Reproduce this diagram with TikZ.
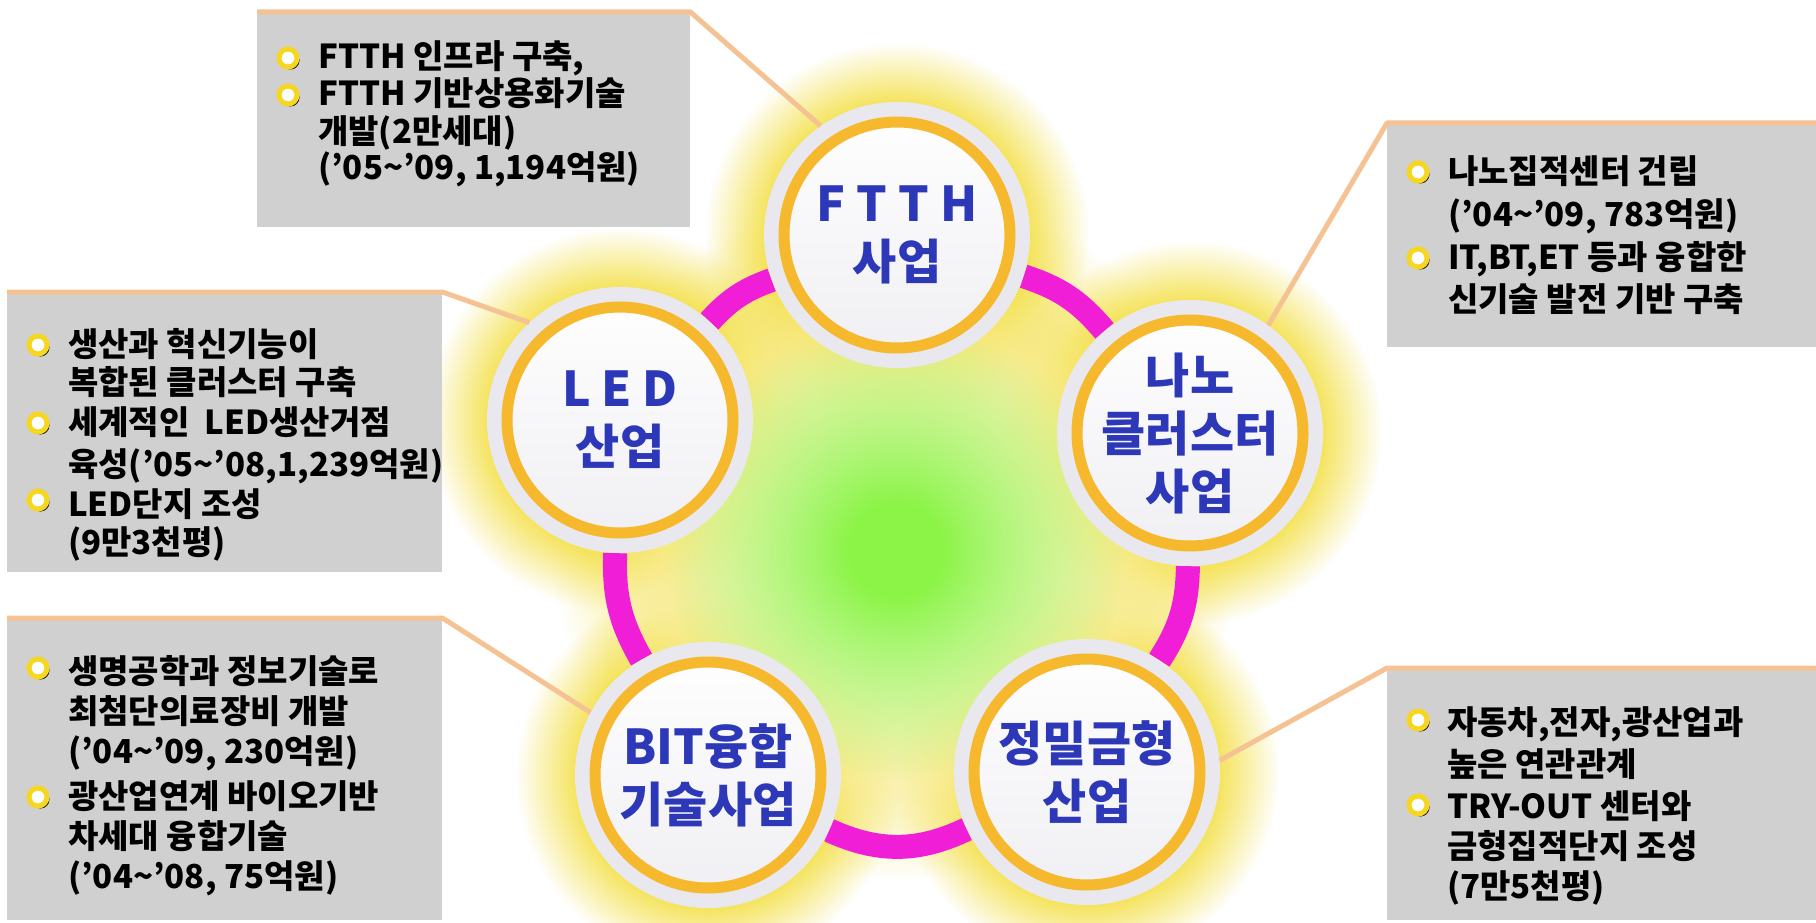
\documentclass[tikz,border=0pt]{standalone}
\usepackage{fontspec}
\setmainfont{Noto Sans CJK KR}
\usetikzlibrary{positioning}
\usetikzlibrary{shadows}
\usetikzlibrary{fadings}
\usetikzlibrary{backgrounds}

\definecolor{boxgray}{RGB}{208,208,208}
\definecolor{leadline}{RGB}{245,194,148}
\definecolor{glowy}{RGB}{244,224,70}
\definecolor{gcore}{RGB}{140,244,70}
\definecolor{bandpink}{RGB}{240,30,214}
\definecolor{ringorange}{RGB}{246,184,44}
\definecolor{hubblue}{RGB}{44,56,184}
\definecolor{discgray}{RGB}{232,232,238}
\definecolor{buly}{RGB}{246,214,30}

% soft edges for the glow
\pgfdeclareradialshading{halofade}{\pgfpointorigin}{color(0bp)=(white); color(16bp)=(white); color(25bp)=(black); color(50bp)=(black)}
\pgfdeclarefading{halo}{\pgfuseshading{halofade}}
\pgfdeclareradialshading{softfade}{\pgfpointorigin}{color(0bp)=(white); color(5bp)=(white); color(25bp)=(black); color(50bp)=(black)}
\pgfdeclarefading{soft}{\pgfuseshading{softfade}}

\newcommand\itemfont{\fontsize{33}{40}\selectfont\bfseries}
\newcommand\hubfont{\fontsize{48}{58}\selectfont\bfseries}

\begin{document}
\begin{tikzpicture}[x=1pt, y=-1pt,
  hub/.style={circle, minimum size=266pt, inner sep=0pt, fill=discgray, text=hubblue, font=\hubfont, align=center,
    path picture={\shade[top color=white, bottom color=discgray!70] (path picture bounding box.center) circle (108pt);
      \draw[ringorange, line width=11pt] (path picture bounding box.center) circle (113pt);}},
  infobox/.style={rectangle, fill=boxgray, inner sep=0pt, anchor=north west},
  lead/.style={leadline, line width=5pt, line join=round},
  band/.style={bandpink, line width=24pt},
  bul/.style={circle, draw=buly, line width=5pt, fill=white, minimum size=18pt, inner sep=0pt,
    drop shadow={shadow xshift=2.5pt, shadow yshift=-2.5pt, fill=black, opacity=0.85}},
  item/.style={anchor=base west, inner sep=0pt, font=\itemfont}]
\useasboundingbox (0,0) rectangle (1816,923);

% the five hubs
\node[hub] (ftth) at (897,235) {F T T H\\사업};
\node[hub] (nano) at (1190,433) {나노\\클러스터\\사업};
\node[hub] (mold) at (1087,772) {정밀금형\\산업};
\node[hub] (bit) at (708,775) {BIT융합\\기술사업};
\node[hub] (led) at (620,420) {L E D\\산업};

% glow and ring behind the hubs
\begin{scope}[on background layer]
\fill[white] (0,0) rectangle (1816,923);
\fill[glowy!75!white, path fading=halo] (896,535) circle (345);
\fill[glowy, path fading=halo] (ftth) circle (192);
\fill[glowy, path fading=halo] (nano) circle (192);
\fill[glowy, path fading=halo] (mold) circle (192);
\fill[glowy, path fading=halo] (bit) circle (192);
\fill[glowy, path fading=halo] (led) circle (192);
\fill[white, path fading=soft] (896,560) circle (300);
\fill[gcore, path fading=soft] (896,550) circle (230);
\draw[band] (ftth) to[bend left=16] (nano);
\draw[band] (nano) to[bend left=16] (mold);
\draw[band] (mold) to[bend left=25] (bit);
\draw[band] (bit) to[bend left=16] (led);
\draw[band] (led) to[bend left=14] (ftth);
\end{scope}

% info boxes
\node[infobox, minimum width=433pt, minimum height=215pt] (ftthbox) at (257,12) {};
\node[infobox, minimum width=429pt, minimum height=224pt] (nanobox) at (1387,123) {};
\node[infobox, minimum width=435pt, minimum height=280pt] (ledbox) at (7,292) {};
\node[infobox, minimum width=435pt, minimum height=302pt] (bitbox) at (7,618) {};
\node[infobox, minimum width=429pt, minimum height=252pt] (moldbox) at (1387,668) {};

\draw[lead] (ftthbox.north west) -- (ftthbox.north east) -- (ftth.125);
\draw[lead] (nanobox.north east) -- (nanobox.north west) -- (nano.54);
\draw[lead] (ledbox.north west) -- (ledbox.north east) -- (led.133);
\draw[lead] (bitbox.north west) -- (bitbox.north east) -- (bit.152);
\draw[lead] (moldbox.north east) -- (moldbox.north west) -- (mold.5);

% FTTH
\node[bul] (fb1) at (288,58) {};
\node[bul] (fb2) at (288,95) {};
\node[item] (ft1) at (318,69) {FTTH 인프라 구축,};
\node[item] (ft2) at (318,106) {FTTH 기반상용화기술};
\node[item] (ft3) at (318,144) {개발(2만세대)};
\node[item] (ft4) at (318,179) {('05\textasciitilde'09, 1,194억원)};

% nano
\node[bul] (nb1) at (1418,172) {};
\node[bul] (nb2) at (1418,258) {};
\node[item] (nt1) at (1448,183) {나노집적센터 건립};
\node[item] (nt2) at (1448,226) {('04\textasciitilde'09, 783억원)};
\node[item] (nt3) at (1448,269) {IT,BT,ET 등과 융합한};
\node[item] (nt4) at (1448,311) {신기술 발전 기반 구축};

% LED
\node[bul] (lb1) at (38,345) {};
\node[bul] (lb2) at (38,423) {};
\node[bul] (lb3) at (38,500) {};
\node[item] (lt1) at (68,356) {생산과 혁신기능이};
\node[item] (lt2) at (68,394) {복합된 클러스터 구축};
\node[item] (lt3) at (68,434) {세계적인 \ LED생산거점};
\node[item] (lt4) at (68,476) {육성('05\textasciitilde'08,1,239억원)};
\node[item] (lt5) at (68,516) {LED단지 조성};
\node[item] (lt6) at (68,554) {(9만3천평)};

% BIT
\node[bul] (bb1) at (38,668) {};
\node[bul] (bb2) at (38,797) {};
\node[item] (bt1) at (68,683) {생명공학과 정보기술로};
\node[item] (bt2) at (68,723) {최첨단의료장비 개발};
\node[item] (bt3) at (68,763) {('04\textasciitilde'09, 230억원)};
\node[item] (bt4) at (68,808) {광산업연계 바이오기반};
\node[item] (bt5) at (68,848) {차세대 융합기술};
\node[item] (bt6) at (68,888) {('04\textasciitilde'08, 75억원)};

% mold
\node[bul] (mb1) at (1418,720) {};
\node[bul] (mb2) at (1418,805) {};
\node[item] (mt1) at (1447,734) {자동차,전자,광산업과};
\node[item] (mt2) at (1447,776) {높은 연관관계};
\node[item] (mt3) at (1447,818) {TRY-OUT 센터와};
\node[item] (mt4) at (1447,858) {금형집적단지 조성};
\node[item] (mt5) at (1447,898) {(7만5천평)};
\end{tikzpicture}
\end{document}
